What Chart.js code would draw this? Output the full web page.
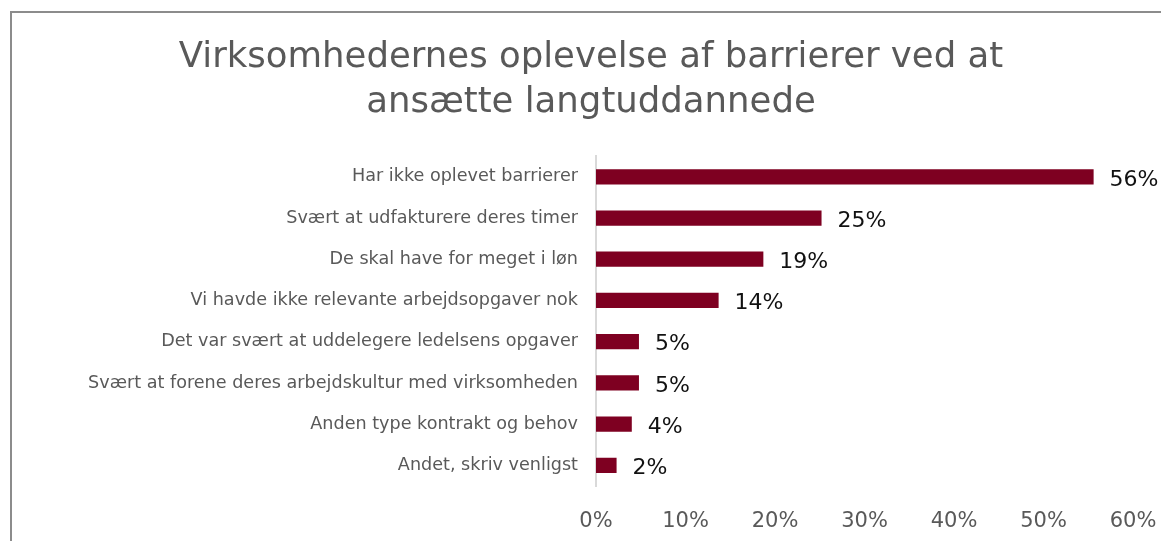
<!DOCTYPE html>
<html lang="da">
<head>
    <meta charset="UTF-8">
    <title>Virksomhedernes oplevelse af barrierer</title>
    <script src="https://cdn.jsdelivr.net/npm/chart.js"></script>
    <style>
        html, body { margin: 0; padding: 0; background: #fff; overflow: hidden; }
        .frame {
            position: absolute; left: 10px; top: 11px;
            width: 1200px; height: 600px;
            border: 2px solid #8c8c8c;
        }
        .chart-box { position: absolute; left: 0; top: 0; width: 1161px; height: 541px; }
    </style>
</head>
<body>
    <div class="frame"></div>
    <div class="chart-box">
        <canvas id="barChart"></canvas>
    </div>
    <script>
        // Data
        const categories = [
            'Har ikke oplevet barrierer',
            'Svært at udfakturere deres timer',
            'De skal have for meget i løn',
            'Vi havde ikke relevante arbejdsopgaver nok',
            'Det var svært at uddelegere ledelsens opgaver',
            'Svært at forene deres arbejdskultur med virksomheden',
            'Anden type kontrakt og behov',
            'Andet, skriv venligst'
        ];
        const shares = [55.6, 25.2, 18.7, 13.7, 4.8, 4.8, 4.0, 2.3];
        const xTicks = [0, 10, 20, 30, 40, 50, 60];

        const fontFamily = '"DejaVu Sans", sans-serif';

        // Draws the percentage next to every bar
        const valueLabels = {
            id: 'valueLabels',
            afterDatasetsDraw(chart) {
                const ctx = chart.ctx;
                const meta = chart.getDatasetMeta(0);
                ctx.save();
                ctx.font = '22px ' + fontFamily;
                ctx.fillStyle = '#111';
                ctx.textAlign = 'left';
                ctx.textBaseline = 'middle';
                meta.data.forEach((bar, i) => {
                    ctx.fillText(Math.round(shares[i]) + '%', bar.x + 16, bar.y + 3);
                });
                ctx.restore();
            }
        };

        const ctx = document.getElementById('barChart').getContext('2d');
        new Chart(ctx, {
            type: 'bar',
            data: {
                labels: categories,
                datasets: [{
                    data: shares,
                    backgroundColor: '#7E0021',
                    borderWidth: 0,
                    categoryPercentage: 1,
                    barPercentage: 0.37
                }]
            },
            options: {
                indexAxis: 'y',
                responsive: true,
                maintainAspectRatio: false,
                animation: false,
                layout: { padding: { left: 21, right: 0, top: 0, bottom: 0 } },
                plugins: {
                    legend: { display: false },
                    tooltip: { enabled: false },
                    title: {
                        display: true,
                        text: ['Virksomhedernes oplevelse af barrierer ved at', 'ansætte langtuddannede'],
                        color: '#595959',
                        font: { family: fontFamily, size: 35.5, weight: 'normal', lineHeight: 1.27 },
                        padding: { top: 35, bottom: 31 }
                    }
                },
                scales: {
                    x: {
                        min: 0,
                        max: 60,
                        afterBuildTicks(scale) {
                            scale.ticks = xTicks.map(v => ({ value: v }));
                        },
                        afterFit(scale) {
                            scale.height = 55;
                            scale.paddingRight = 28;
                        },
                        grid: { display: false, drawTicks: false },
                        border: { display: false },
                        ticks: {
                            padding: 23,
                            color: '#595959',
                            font: { family: fontFamily, size: 21 },
                            callback: v => v + '%'
                        }
                    },
                    y: {
                        afterFit(scale) { scale.width = 575; },
                        grid: { display: false, drawTicks: false },
                        border: { display: true, color: '#d9d9d9', width: 2 },
                        ticks: {
                            padding: 18,
                            color: '#595959',
                            font: { family: fontFamily, size: 17.6 }
                        }
                    }
                }
            },
            plugins: [valueLabels]
        });
    </script>
</body>
</html>
